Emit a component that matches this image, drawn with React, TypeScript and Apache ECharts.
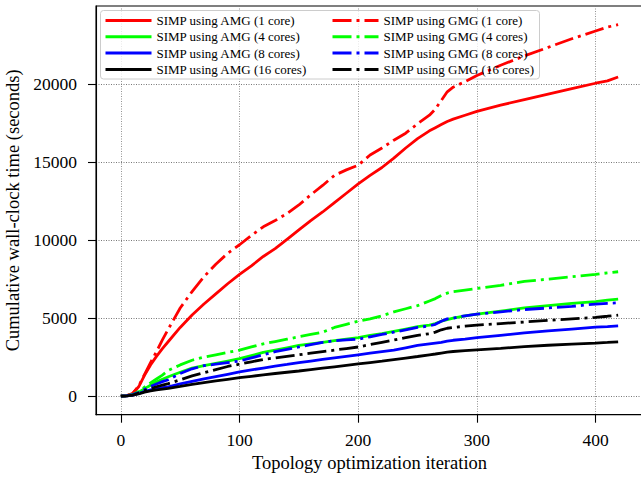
import React, { useEffect, useRef } from "react";
import * as echarts from "echarts";

const iterations = [0,5,10,15,20,25,30,35,40,50,60,70,80,90,100,110,120,130,140,150,160,170,180,190,200,210,220,230,240,250,260,265,270,275,280,290,300,320,340,360,380,400,410,419];

const amg1 = [0,40,170,600,1350,2000,2550,3050,3500,4400,5200,5900,6550,7200,7800,8350,8950,9450,10050,10650,11250,11800,12400,13000,13600,14150,14650,15250,15900,16500,17000,17200,17400,17600,17750,18000,18250,18650,19000,19350,19700,20050,20200,20450];
const amg4 = [0,30,100,250,480,700,900,1080,1240,1530,1800,1950,2100,2250,2400,2600,2800,2950,3100,3250,3350,3450,3550,3650,3750,3900,4000,4150,4300,4450,4550,4650,4800,4900,5000,5150,5250,5450,5650,5800,5950,6050,6150,6220];
const amg8 = [0,20,70,170,300,400,480,540,600,780,950,1100,1250,1400,1550,1680,1800,1920,2030,2150,2250,2350,2450,2550,2650,2750,2850,2950,3100,3250,3350,3400,3450,3520,3580,3650,3750,3900,4050,4180,4300,4420,4460,4500];
const amg16 = [0,20,60,150,250,330,400,450,500,620,750,870,980,1080,1180,1270,1360,1450,1530,1610,1700,1790,1880,1970,2060,2150,2240,2340,2440,2540,2650,2700,2760,2820,2860,2910,2960,3060,3170,3260,3330,3400,3440,3480];
const gmg1 = [0,40,170,650,1400,2150,2850,3600,4300,5650,6700,7650,8450,9150,9700,10300,10850,11250,11700,12250,12900,13500,14150,14500,14800,15450,15900,16400,16850,17450,18000,18400,18950,19500,19800,20150,20550,21200,21800,22350,22900,23400,23650,23800];
const gmg4 = [0,30,110,300,580,850,1100,1350,1650,2000,2300,2500,2650,2800,2950,3150,3350,3500,3650,3800,3950,4100,4400,4600,4800,4950,5150,5400,5600,5800,6100,6250,6450,6600,6700,6800,6900,7100,7350,7500,7650,7800,7900,7970];
const gmg8 = [0,30,100,230,430,620,780,930,1050,1450,1750,1950,2050,2150,2250,2450,2650,2850,3000,3150,3300,3450,3550,3600,3650,3800,3950,4100,4250,4400,4500,4600,4800,4950,5000,5150,5250,5400,5550,5650,5750,5900,5950,5980];
const gmg16 = [0,20,70,200,350,480,600,700,800,1050,1300,1500,1700,1900,2050,2200,2350,2450,2550,2650,2750,2850,2950,3050,3150,3300,3450,3600,3750,3900,4000,4100,4250,4350,4400,4480,4550,4650,4750,4850,4950,5050,5120,5190];

const amgNames = ["SIMP using AMG (1 core)", "SIMP using AMG (4 cores)", "SIMP using AMG (8 cores)", "SIMP using AMG (16 cores)"];
const gmgNames = ["SIMP using GMG (1 core)", "SIMP using GMG (4 cores)", "SIMP using GMG (8 cores)", "SIMP using GMG (16 cores)"];
const colors = ["#ff0000", "#00ff00", "#0000ff", "#000000"];
const xTicks = [0, 100, 200, 300, 400];
const yTicks = [0, 5000, 10000, 15000, 20000];

const FONT = "'Liberation Serif', 'Times New Roman', serif";
const DASHDOT = [19, 5, 3, 5];

export default function App() {
  const ref = useRef<HTMLDivElement>(null);
  useEffect(() => {
    if (!ref.current) return;
    const chart = echarts.init(ref.current, undefined, { renderer: "svg" });
    const mk = (name: string, vals: number[], color: string, dash: boolean) => ({
      name,
      type: "line",
      data: iterations.map((x, i) => [x, vals[i]]),
      showSymbol: false,
      symbol: "none",
      color,
      lineStyle: { width: 2.8, color, type: dash ? DASHDOT : "solid" },
      emphasis: { disabled: true },
    });
    const amgVals = [amg1, amg4, amg8, amg16];
    const gmgVals = [gmg1, gmg4, gmg8, gmg16];
    const series = [
      ...amgNames.map((n, i) => mk(n, amgVals[i], colors[i], false)),
      ...gmgNames.map((n, i) => mk(n, gmgVals[i], colors[i], true)),
    ];
    const legendCommon = {
      orient: "vertical",
      top: 14,
      padding: 0,
      itemWidth: 46,
      itemHeight: 10,
      itemGap: 3.3,
      itemStyle: { opacity: 0 },
      lineStyle: { width: 3 },
      textStyle: { fontFamily: FONT, fontSize: 13, color: "#000", lineHeight: 13 },
      selectedMode: false,
    };
    chart.setOption({
      animation: false,
      grid: {
        left: 96, right: -2, top: 6, bottom: 62.3,
        containLabel: false, outerBoundsMode: "none",
        show: true, borderColor: "#000", borderWidth: 1.1, backgroundColor: "transparent",
      },
      legend: [
        { ...legendCommon, left: 104, data: amgNames },
        { ...legendCommon, left: 331, data: gmgNames },
      ],
      graphic: [
        {
          type: "rect",
          z: 3,
          shape: { x: 100.5, y: 10.5, width: 439, height: 68.5, r: 3 },
          style: { fill: "rgba(255,255,255,0.8)", stroke: "#cccccc", lineWidth: 1 },
        },
      ],
      xAxis: {
        type: "value",
        min: -20.95,
        max: 439.95,
        name: "Topology optimization iteration",
        nameLocation: "middle",
        nameGap: 37,
        nameTextStyle: { fontFamily: FONT, fontSize: 18.5, color: "#000" },
        axisLine: { show: true, onZero: false, lineStyle: { color: "#000", width: 1.1 } },
        axisTick: { show: true, length: 8, lineStyle: { color: "#000", width: 1.1 }, customValues: xTicks },
        axisLabel: { customValues: xTicks, formatter: (v: number) => String(v), fontFamily: FONT, fontSize: 17.5, color: "#000", margin: 16 },
        splitLine: { show: true, lineStyle: { color: "#777", width: 0.8, type: [1, 1.5] } },
      },
      yAxis: {
        type: "value",
        min: -1190,
        max: 25000,
        name: "Cumulative wall-clock time (seconds)",
        nameLocation: "middle",
        nameGap: 67,
        nameTextStyle: { fontFamily: FONT, fontSize: 18.5, color: "#000" },
        axisLine: { show: true, onZero: false, lineStyle: { color: "#000", width: 1.1 } },
        axisTick: { show: true, length: 8, lineStyle: { color: "#000", width: 1.1 }, customValues: yTicks },
        axisLabel: { customValues: yTicks, formatter: (v: number) => String(v), fontFamily: FONT, fontSize: 17.5, color: "#000", margin: 19 },
        splitLine: { show: true, lineStyle: { color: "#555", width: 0.8, type: [1, 1.5] } },
      },
      series,
    });
    return () => chart.dispose();
  }, []);
  return (
    <div
      ref={ref}
      style={{ position: "fixed", left: 0, top: 0, width: 641, height: 477, background: "#fff" }}
    />
  );
}
